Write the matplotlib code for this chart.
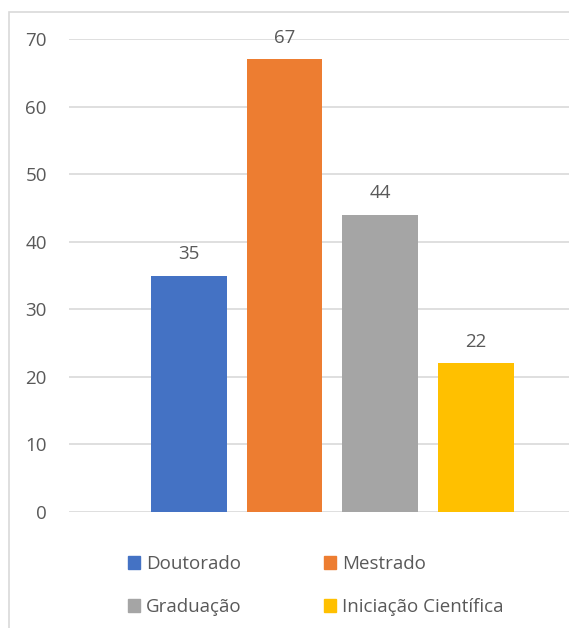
import matplotlib.pyplot as plt
from matplotlib.patches import Patch, Rectangle

categorias = ['Doutorado', 'Mestrado', 'Graduação', 'Iniciação Científica']
valores = [35, 67, 44, 22]
cores = ['#4472C4', '#ED7D31', '#A5A5A5', '#FFC000']
yticks = [0, 10, 20, 30, 40, 50, 60, 70]

plt.rcParams['font.family'] = ['Open Sans', 'DejaVu Sans']
texto = '#595959'
grade = '#D9D9D9'
fs = 13.5

W, H = 569, 628
fig = plt.figure(figsize=(W / 100, H / 100), dpi=100)

# moldura do gráfico (cortada à direita e embaixo)
fig.patches.append(Rectangle((9 / W, -0.1), 1.2, 1 - 12 / H + 0.1,
                             transform=fig.transFigure, fill=False,
                             edgecolor=grade, linewidth=1.2))

ax = fig.add_axes([69 / W, 1 - 512 / H, (W - 69) / W, (512 - 39) / H])

x = range(len(valores))
barras = ax.bar(x, valores, width=0.79, color=cores, zorder=3)
for b, v in zip(barras, valores):
    ax.annotate(str(v), (b.get_x() + b.get_width() / 2, v),
                xytext=(0, 9), textcoords='offset points',
                ha='center', va='bottom', fontsize=fs, color=texto)

ax.set_xlim(-1.25, 3.97)
ax.set_ylim(0, 70)
ax.set_yticks(yticks)
ax.set_xticks([])
ax.yaxis.grid(True, color=grade, linewidth=1.2, zorder=0)
for s in ax.spines.values():
    s.set_visible(False)
ax.tick_params(axis='y', length=0, pad=16, labelsize=fs, labelcolor=texto)

ordem = [0, 2, 1, 3]
handles = [Patch(color=cores[i]) for i in ordem]
fig.legend(handles, [categorias[i] for i in ordem], ncol=2,
           loc='center left', bbox_to_anchor=(111 / W, 1 - 585.5 / H),
           frameon=False, fontsize=fs, labelcolor=texto,
           handlelength=0.65, handleheight=0.65, handletextpad=0.32,
           columnspacing=4.4, labelspacing=1.35)

fig.savefig('out.png', dpi=100)
